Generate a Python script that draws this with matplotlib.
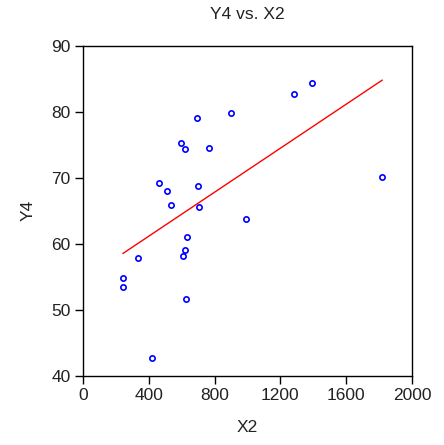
import numpy as np
import matplotlib
matplotlib.use("Agg")
import matplotlib.pyplot as plt

plt.rcParams['font.family'] = ['Liberation Sans', 'DejaVu Sans']

# Data
x2 = [693, 898, 598, 617, 764, 460, 511, 696, 535, 702, 989,
      631, 617, 606, 337, 243, 243, 623, 420, 1393, 1283, 1818]
y4 = [79.1, 79.8, 75.2, 74.4, 74.5, 69.2, 68.0, 68.7, 65.8, 65.6, 63.8,
      61.0, 59.0, 58.2, 57.9, 54.8, 53.5, 51.6, 42.6, 84.3, 82.7, 70.1]
x_ticks = [0, 400, 800, 1200, 1600, 2000]
y_ticks = [40, 50, 60, 70, 80, 90]

x = np.array(x2)
y = np.array(y4)

# least squares fit line across the data range
slope, intercept = np.polyfit(x, y, 1)
xs = np.array([x.min(), x.max()])

fig = plt.figure(figsize=(4.44, 4.45), dpi=100)
ax = fig.add_axes([0.187, 0.156, 0.741, 0.741])

ax.plot(xs, intercept + slope * xs, color='red', lw=1.0)
ax.plot(x, y, 'o', ms=3.8, mfc='none', mec='blue', mew=1.2)

ax.set_xlim(0, 2000)
ax.set_ylim(40, 90)
ax.set_xticks(x_ticks)
ax.set_yticks(y_ticks)
ax.tick_params(direction='out', length=6, width=1, labelsize=12.5, pad=3,
               top=False, right=False, labelcolor='#222222')
for s in ax.spines.values():
    s.set_linewidth(1.0)

ax.set_title('Y4 vs. X2', fontsize=12.5, pad=19, color='#222222')
ax.set_xlabel('X2', fontsize=12.5, labelpad=12, color='#222222')
ax.set_ylabel('Y4', fontsize=12.5, labelpad=11, color='#222222')

fig.savefig('out.png', dpi=100)
